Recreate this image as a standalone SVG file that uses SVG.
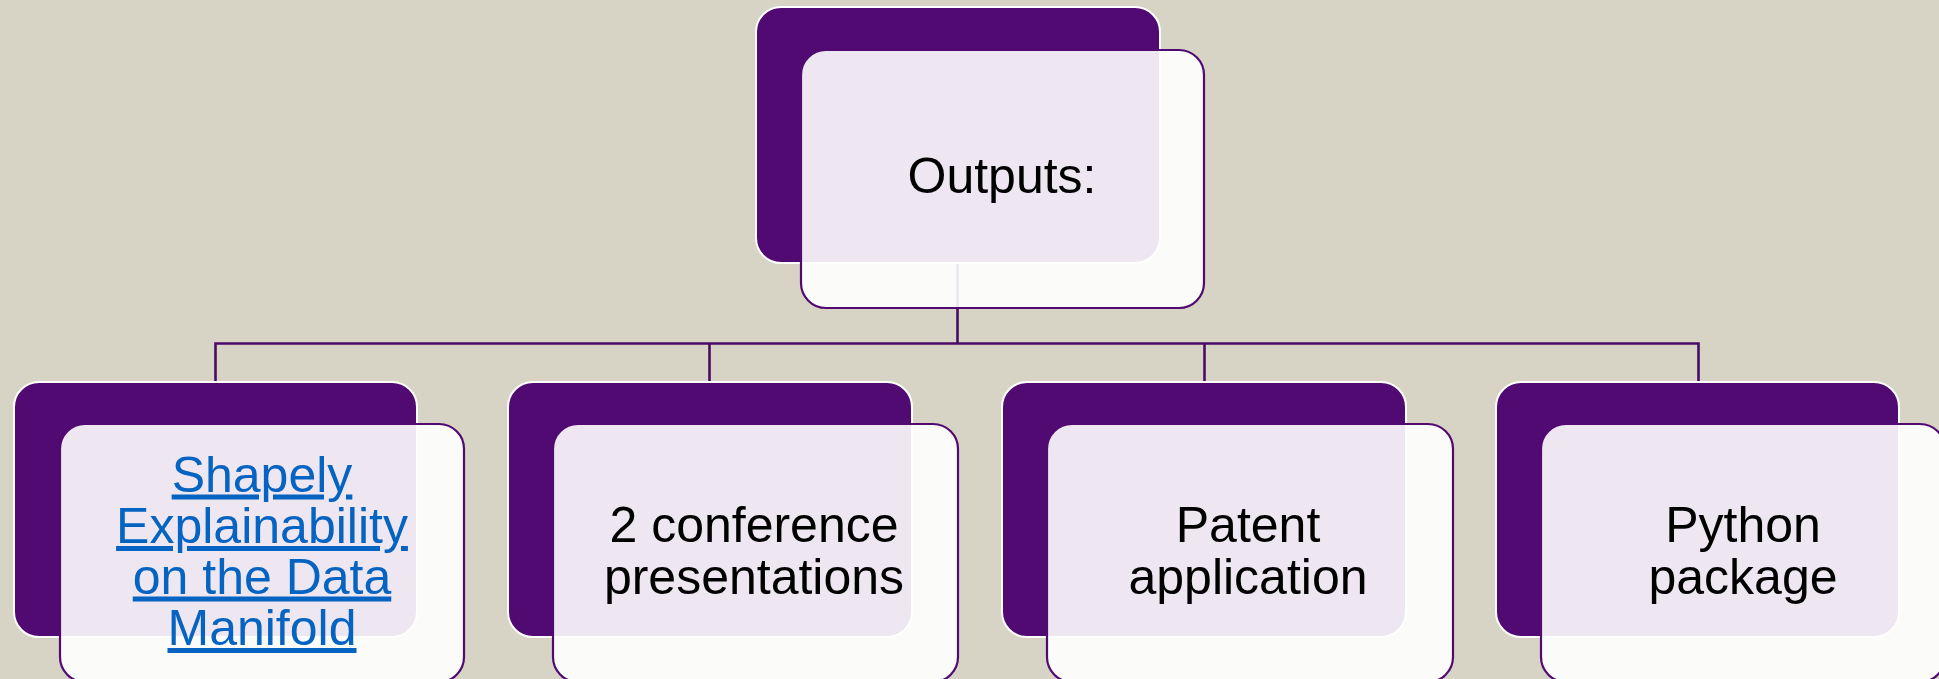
<svg xmlns="http://www.w3.org/2000/svg" width="1939" height="679" viewBox="0 0 1939 679">
<style>
.bg{fill:#D7D4C5}
.back{fill:#510A72;stroke:#FFFFFF;stroke-width:2}
.front{fill:#FFFFFF;fill-opacity:0.9;stroke:#510A72;stroke-width:2.2}
.conn{fill:none;stroke:#4A0A68;stroke-width:2.6}
.t{font-family:"Liberation Sans",Arial,sans-serif;font-size:50px;fill:#000000;text-anchor:middle}
.link{fill:#0563C1;text-decoration:underline}
</style>
<rect class="bg" x="0" y="0" width="1939" height="679"/>
<g id="connectors">
<path class="conn" d="M957.5 264 V343.5"/>
<path class="conn" d="M215.5 381 V343.5 H1698.5 V381"/>
<path class="conn" d="M709.5 343.5 V381"/>
<path class="conn" d="M1204.5 343.5 V381"/>
</g>
<g id="node-outputs">
<rect class="back" x="756" y="7" width="404" height="256" rx="25"/>
<rect class="front" x="801" y="50" width="403" height="258" rx="25"/>
<text class="t" x="1002" y="193">Outputs:</text>
</g>
<g id="node-shapely">
<rect class="back" x="14" y="382" width="403" height="255" rx="25"/>
<rect class="front" x="60" y="424" width="404" height="258" rx="25"/>
<text class="t link" x="262"><tspan x="262" y="491.5">Shapely</tspan><tspan x="262" y="543">Explainability</tspan><tspan x="262" y="593.5">on the Data</tspan><tspan x="262" y="645">Manifold</tspan></text>
</g>
<g id="node-conference">
<rect class="back" x="508" y="382" width="404" height="255" rx="25"/>
<rect class="front" x="553" y="424" width="405" height="258" rx="25"/>
<text class="t" x="754"><tspan x="754" y="542">2 conference</tspan><tspan x="754" y="594">presentations</tspan></text>
</g>
<g id="node-patent">
<rect class="back" x="1002" y="382" width="404" height="255" rx="25"/>
<rect class="front" x="1047" y="424" width="406" height="258" rx="25"/>
<text class="t" x="1248"><tspan x="1248" y="542">Patent</tspan><tspan x="1248" y="594">application</tspan></text>
</g>
<g id="node-python">
<rect class="back" x="1496" y="382" width="403" height="255" rx="25"/>
<rect class="front" x="1541" y="424" width="404" height="258" rx="25"/>
<text class="t" x="1743"><tspan x="1743" y="542">Python</tspan><tspan x="1743" y="594">package</tspan></text>
</g>
</svg>
